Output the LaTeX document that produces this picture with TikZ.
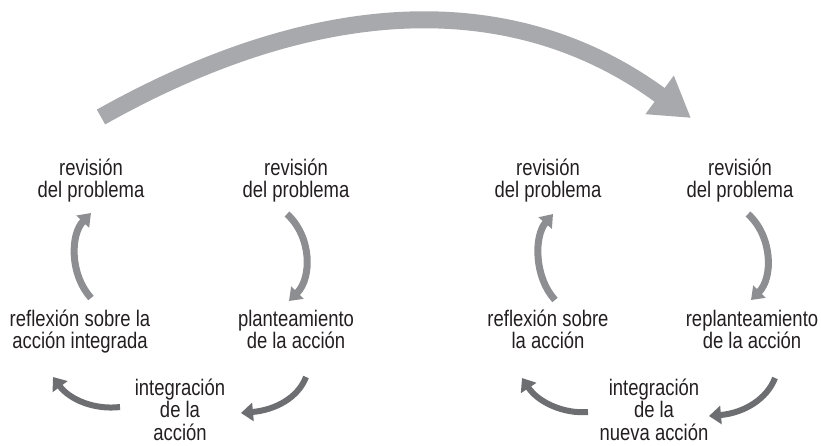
\documentclass[tikz,border=0pt]{standalone}
\usepackage{fontspec}
\setmainfont{Liberation Sans}[FakeStretch=0.82]
\usetikzlibrary{arrows.meta}
\definecolor{bigarrow}{HTML}{A7A9AC}
\definecolor{midarrow}{HTML}{8D8E91}
\definecolor{darkarrow}{HTML}{6D6E71}
\definecolor{txt}{HTML}{231F20}
\begin{document}
\begin{tikzpicture}[x=1pt,y=-1pt,
  lbl/.style={align=center, anchor=base, inner sep=0pt, text=txt,
    font=\fontsize{22.5}{22.5}\selectfont},
  cyc/.style={midarrow, line width=7pt, -{Triangle[length=12pt,width=17pt]}},
  cycd/.style={darkarrow, line width=6pt, -{Triangle[length=12pt,width=18pt]}},
  big/.style={bigarrow, line width=17pt, -{Triangle[length=39pt,width=45pt]}}]
\useasboundingbox (0,0) rectangle (821,445);
% labels, left cycle (anchor = baseline of the last line)
\node[lbl] (l1) at (91,197.5) {revisión\\del problema};
\node[lbl] (l2) at (296,197.5) {revisión\\del problema};
\node[lbl] (l3) at (296,348.5) {planteamiento\\de la acción};
\node[lbl] (l4) at (180,440) {integración\\de la\\acción};
\node[lbl] (l5) at (80,348.5) {reflexión sobre la\\acción integrada};
% labels, right cycle
\node[lbl] (r1) at (548,197.5) {revisión\\del problema};
\node[lbl] (r2) at (740,197.5) {revisión\\del problema};
\node[lbl] (r3) at (752,348.5) {replanteamiento\\de la acción};
\node[lbl] (r4) at (654,440) {integración\\de la\\nueva acción};
\node[lbl] (r5) at (548,348.5) {reflexión sobre\\la acción};
% arrow end points
\coordinate (a1s) at (91,298);  \coordinate (a1e) at (91,213);
\coordinate (a2s) at (287,214); \coordinate (a2e) at (289,301);
\coordinate (a3s) at (306,377); \coordinate (a3e) at (241,413);
\coordinate (a4s) at (120,407); \coordinate (a4e) at (53,377);
\coordinate (b1s) at (555,300); \coordinate (b1e) at (553,214);
\coordinate (b2s) at (748,214); \coordinate (b2e) at (751,300);
\coordinate (b3s) at (775,378); \coordinate (b3e) at (709,416);
\coordinate (b4s) at (588,412); \coordinate (b4e) at (522,378);
\coordinate (bigs) at (101,117); \coordinate (bige) at (691,118);
% arrows
\draw[big] (bigs) .. controls (327,-10) and (520,-8) .. (bige);
\draw[cyc] (a1s) .. controls (70,275) and (70,235) .. (a1e);
\draw[cyc] (a2s) .. controls (312,237) and (312,278) .. (a2e);
\draw[cycd] (a3s) .. controls (298,398) and (275,410) .. (a3e);
\draw[cycd] (a4s) .. controls (95,410) and (70,400) .. (a4e);
\draw[cyc] (b1s) .. controls (534,277) and (534,236) .. (b1e);
\draw[cyc] (b2s) .. controls (773,237) and (773,278) .. (b2e);
\draw[cycd] (b3s) .. controls (767,399) and (744,413) .. (b3e);
\draw[cycd] (b4s) .. controls (563,414) and (538,402) .. (b4e);
\end{tikzpicture}
\end{document}
